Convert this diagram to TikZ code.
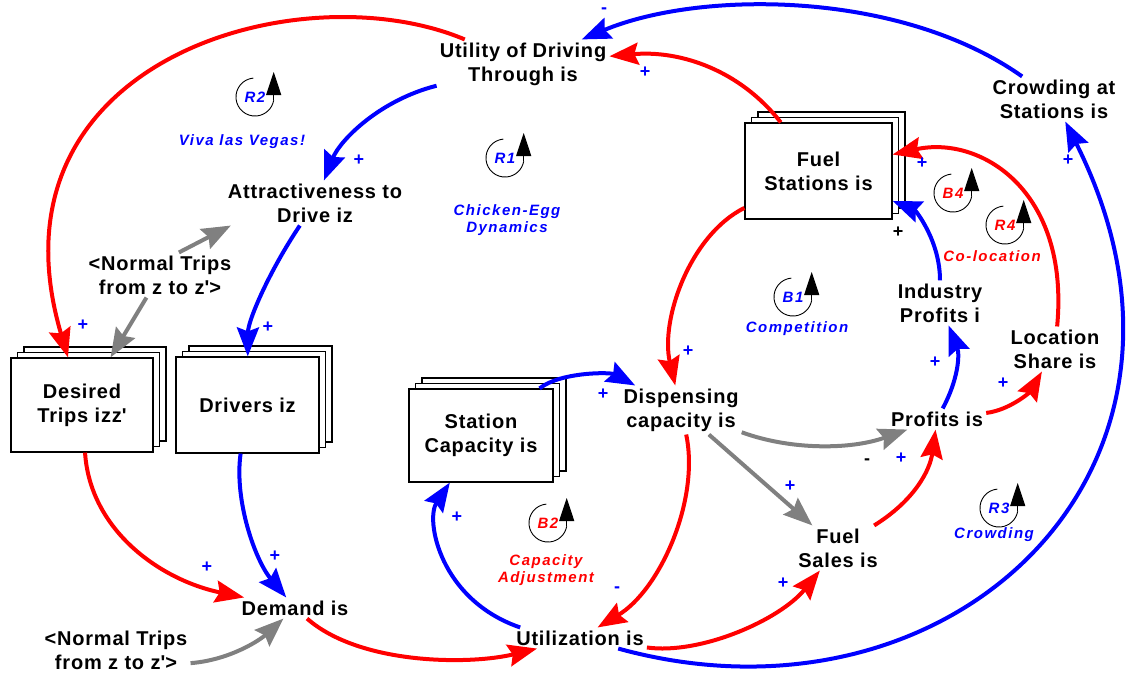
\documentclass[tikz,border=0pt]{standalone}
\usepackage{fontspec}
\setmainfont{Liberation Sans}[LetterSpace=4]
\usetikzlibrary{arrows.meta,shadows}

\begin{document}
\begin{tikzpicture}[x=1pt,y=-1pt,
  var/.style={align=center,inner sep=3pt,font=\bfseries\fontsize{20}{24}\selectfont},
  stock/.style={var,draw,fill=white,line width=1.2pt,
    copy shadow={shadow xshift=13pt,shadow yshift=11pt,draw=black,fill=white,line width=1.2pt},
    copy shadow={shadow xshift=6.5pt,shadow yshift=5.5pt,draw=black,fill=white,line width=1.2pt}},
  lnk/.style={line width=4pt,-{Stealth[length=29pt,width=22pt,inset=4pt]}},
  sgn/.style={text=blue,inner sep=0pt,font=\bfseries\fontsize{18}{18}\selectfont},
  looplbl/.style={align=center,inner sep=0pt,
    font=\bfseries\itshape\fontsize{15}{17}\selectfont\addfontfeature{LetterSpace=10}},
  loopsym/.pic={
    \draw[line width=0.9pt] (-1.7,-18.9) arc[start angle=-95,end angle=-350,radius=19];
    \draw[line width=0.9pt,-{Triangle[length=23pt,width=15pt]}] (18.7,3.3) -- (18.7,-25);
  }]
  \useasboundingbox (0,0) rectangle (1135,677);

  % variables
  \node[var] (util)    at (523,64)  {Utility of Driving\\Through is};
  \node[var] (crowd)   at (1054,99) {Crowding at\\Stations is};
  \node[var] (attr)    at (315,203) {Attractiveness to\\Drive iz};
  \node[var] (ntrips1) at (160,275) {<Normal Trips\\from z to z\textquotesingle>};
  \node[var] (indp)    at (940,303) {Industry\\Profits i};
  \node[var] (locsh)   at (1055,349){Location\\Share is};
  \node[var] (disp)    at (681,410) {Dispensing\\capacity is};
  \node[var] (prof)    at (937,419) {Profits is};
  \node[var] (sales)   at (838,548) {Fuel\\Sales is};
  \node[var] (demand)  at (295,608) {Demand is};
  \node[var] (ntrips2) at (116,650) {<Normal Trips\\from z to z\textquotesingle>};
  \node[var] (utiliz)  at (580,638) {Utilization is};

  % stocks
  \node[stock,minimum width=147pt,minimum height=96pt] (fuel)    at (818.5,171) {Fuel\\Stations is};
  \node[stock,minimum width=142pt,minimum height=94pt] (desired) at (82,405)    {Desired\\Trips izz\textquotesingle};
  \node[stock,minimum width=143pt,minimum height=96pt] (drivers) at (247.5,405) {Drivers iz};
  \node[stock,minimum width=144pt,minimum height=93pt] (stcap)   at (481,435.5) {Station\\Capacity is};

  % links
  \draw[lnk,red]  (util) .. controls (300,-30) and (-20,60) .. (desired);
  \draw[lnk,blue] (util) .. controls (380,100) and (340,140) .. (attr);
  \draw[lnk,blue] (crowd) .. controls (900,-10) and (700,-10) .. (util);
  \draw[lnk,red]  (fuel) .. controls (740,70) and (680,50) .. (util);
  \draw[lnk,gray] (ntrips1) -- (desired);
  \draw[lnk,gray] (ntrips1.50) -- (attr.195);
  \draw[lnk,blue] (attr) .. controls (270,270) and (248,320) .. (drivers);
  \draw[lnk,red]  (desired) .. controls (90,530) and (160,580) .. (demand);
  \draw[lnk,blue] (drivers) .. controls (234,500) and (255,560) .. (demand);
  \draw[lnk,gray] (ntrips2.-10) .. controls (230,660) and (260,640) .. (demand);
  \draw[lnk,red]  (demand) .. controls (360,665) and (470,665) .. (utiliz);
  \draw[lnk,blue] (utiliz.170) .. controls (440,600) and (425,520) .. (stcap);
  \draw[lnk,blue] (stcap) .. controls (560,372) and (610,372) .. (disp);
  \draw[lnk,red]  (fuel) .. controls (690,235) and (660,320) .. (disp);
  \draw[lnk,red]  (disp) .. controls (700,500) and (660,590) .. (utiliz);
  \draw[lnk,gray] (disp) -- (sales);
  \draw[lnk,gray] (disp) .. controls (790,450) and (850,450) .. (prof);
  \draw[lnk,red]  (utiliz) .. controls (700,655) and (780,620) .. (sales);
  \draw[lnk,blue] (utiliz) .. controls (950,740) and (1240,470) .. (crowd);
  \draw[lnk,red]  (sales) .. controls (915,500) and (930,470) .. (prof);
  \draw[lnk,red]  (prof) .. controls (1010,410) and (1030,392) .. (locsh);
  \draw[lnk,blue] (prof) .. controls (958,380) and (960,355) .. (indp);
  \draw[lnk,blue] (indp) .. controls (940,240) and (915,210) .. (fuel);
  \draw[lnk,red]  (locsh) .. controls (1070,190) and (980,135) .. (fuel);

  % polarities
  \node[sgn] (s1)  at (83,325)   {+};
  \node[sgn] (s2)  at (268,327)  {+};
  \node[sgn] (s3)  at (359,160)  {+};
  \node[sgn] (s4)  at (645,72)   {+};
  \node[sgn] (s5)  at (604,11)   {-};
  \node[sgn] (s6)  at (207,567)  {+};
  \node[sgn] (s7)  at (275,556)  {+};
  \node[sgn] (s8)  at (603,394)  {+};
  \node[sgn] (s9)  at (688,351)  {+};
  \node[sgn] (s10) at (457,517)  {+};
  \node[sgn] (s11) at (617,590)  {-};
  \node[sgn] (s12) at (783,583)  {+};
  \node[sgn] (s13) at (790,486)  {+};
  \node[sgn] (s14) at (901,458)  {+};
  \node[sgn,text=black] (s15) at (867,462) {-};
  \node[sgn] (s16) at (935,362)  {+};
  \node[sgn] (s17) at (1003,383) {+};
  \node[sgn] (s18) at (922,163)  {+};
  \node[sgn,text=black] (s19) at (898,232) {+};
  \node[sgn] (s20) at (1068,160) {+};

  % loops
  \pic at (255,97) {loopsym};
  \node[looplbl,text=blue] (r2) at (255,97) {R2};
  \node[looplbl,text=blue] (r2n) at (242,142) {Viva las Vegas!};
  \pic at (505,158) {loopsym};
  \node[looplbl,text=blue] (r1) at (505,158) {R1};
  \node[looplbl,text=blue] (r1n) at (507,220) {Chicken-Egg\\Dynamics};
  \pic at (953,193) {loopsym};
  \node[looplbl,text=red] (b4) at (953,193) {B4};
  \pic at (1005,225) {loopsym};
  \node[looplbl,text=red] (r4) at (1005,225) {R4};
  \node[looplbl,text=red] (r4n) at (992,256) {Co-location};
  \pic at (793,297) {loopsym};
  \node[looplbl,text=blue] (b1) at (793,297) {B1};
  \node[looplbl,text=blue] (b1n) at (797,329) {Competition};
  \pic at (548,523) {loopsym};
  \node[looplbl,text=red] (b2) at (548,523) {B2};
  \node[looplbl,text=red] (b2n) at (546,570) {Capacity\\Adjustment};
  \pic at (999,508) {loopsym};
  \node[looplbl,text=blue] (r3) at (999,508) {R3};
  \node[looplbl,text=blue] (r3n) at (994,535) {Crowding};
\end{tikzpicture}
\end{document}
